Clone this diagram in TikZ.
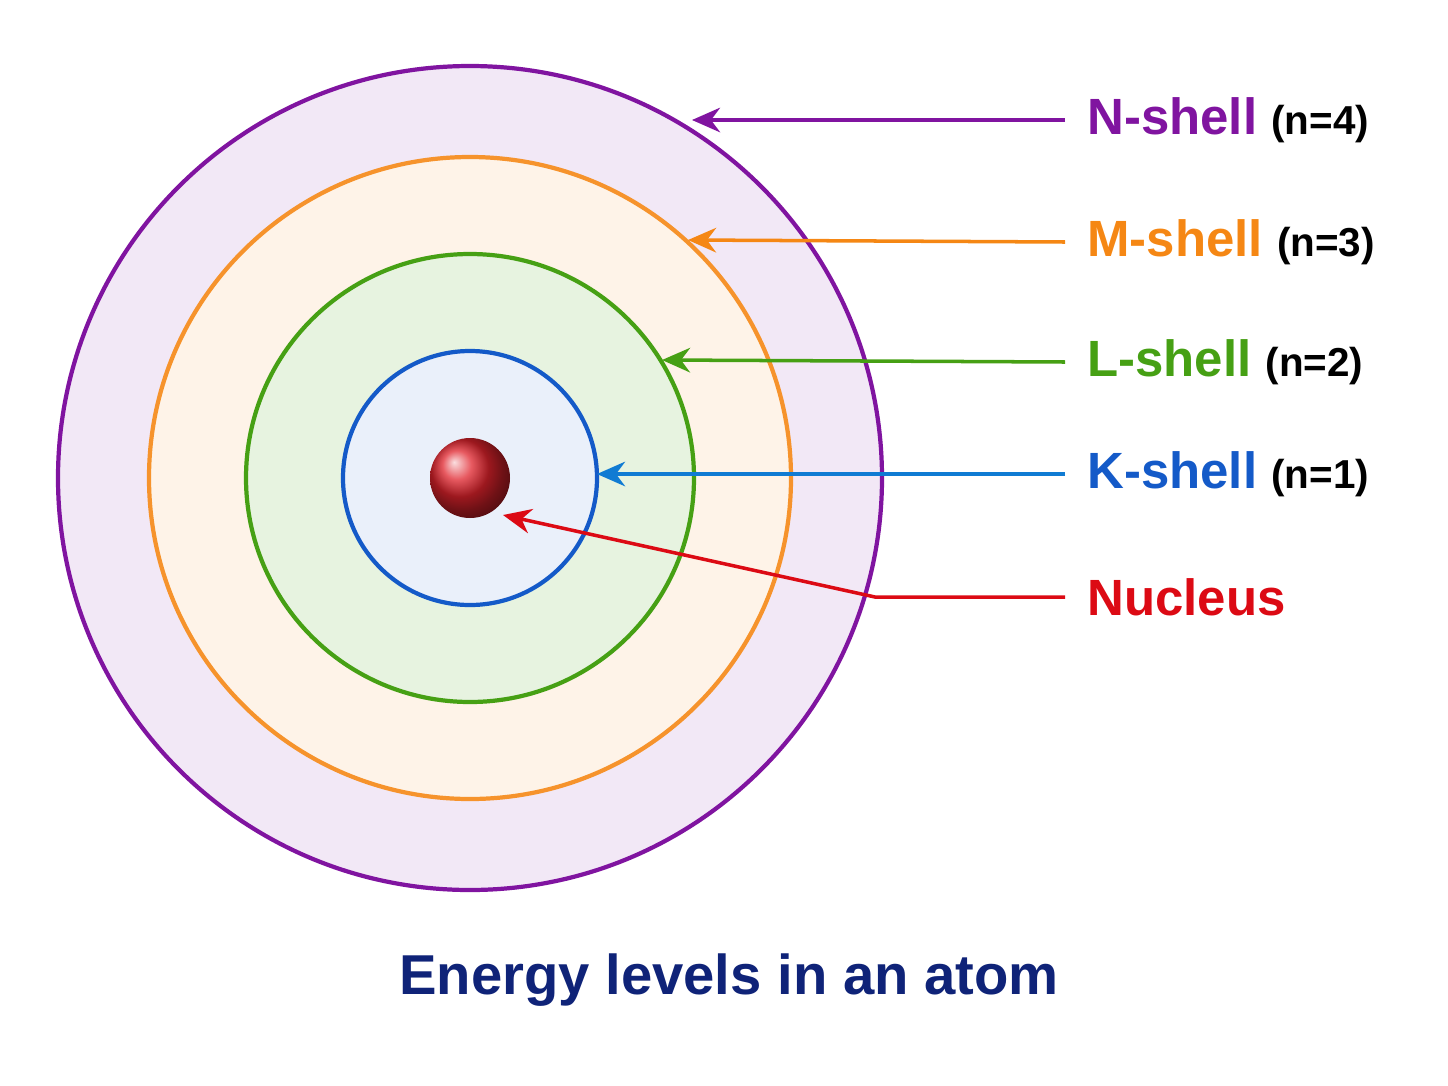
\documentclass[tikz,border=0pt]{standalone}
\usepackage{fontspec}
\setmainfont{Liberation Sans}
\usetikzlibrary{arrows.meta}
\definecolor{nviolet}{RGB}{128,20,160}
\definecolor{morange}{RGB}{245,135,20}
\definecolor{lgreen}{RGB}{70,160,20}
\definecolor{kblue}{RGB}{20,90,200}
\definecolor{nucred}{RGB}{220,10,20}
\definecolor{navy}{RGB}{15,35,120}
\newcommand{\qnum}[1]{\textcolor{black}{\fontsize{23}{26}\selectfont #1}}
\begin{document}
\begin{tikzpicture}[x=0.02cm, y=-0.02cm,
  shell/.style={line width=2.4pt},
  pointer/.style={line width=2pt, -{Stealth[length=16pt, width=14pt]}},
  shelltag/.style={anchor=west, inner sep=0pt, font=\fontsize{29}{32}\selectfont\bfseries}]

\useasboundingbox (0,0) rectangle (1448,1086);

% shells, outermost first
\fill[nviolet!10] (470,478) circle (412);
\fill[morange!10] (470,478) circle (321);
\fill[lgreen!13] (470,478) circle (224);
\fill[kblue!9] (470,478) circle (127);
\draw[shell, nviolet] (470,478) circle (412);
\draw[shell, morange!90] (470,478) circle (321);
\draw[shell, lgreen] (470,478) circle (224);
\draw[shell, kblue] (470,478) circle (127);

% nucleus
\shade[ball color=nucred!90!white] (470,478) circle (40);
\coordinate (nuc) at (503,515);

% shell hits
\coordinate (nhit) at (692,120);
\coordinate (mhit) at (688,240);
\coordinate (lhit) at (662,360);
\coordinate (khit) at (597,474);
\coordinate (bend) at (875,597);

% labels
\node[shelltag, text=nviolet] (nlab) at (1087,120) {N-shell \qnum{(n=4)}};
\node[shelltag, text=morange] (mlab) at (1087,242) {M-shell \qnum{(n=3)}};
\node[shelltag, text=lgreen] (llab) at (1087,362) {L-shell \qnum{(n=2)}};
\node[shelltag, text=kblue] (klab) at (1087,474) {K-shell \qnum{(n=1)}};
\node[shelltag, text=nucred] (nulab) at (1087,597) {Nucleus};

% pointers
\draw[pointer, nviolet] ([xshift=-0.44cm]nlab.west) -- (nhit);
\draw[pointer, morange] ([xshift=-0.44cm]mlab.west) -- (mhit);
\draw[pointer, lgreen] ([xshift=-0.44cm]llab.west) -- (lhit);
\draw[pointer, kblue!80!cyan] ([xshift=-0.44cm]klab.west) -- (khit);
\draw[pointer, nucred] ([xshift=-0.44cm]nulab.west) -- (bend) -- (nuc);

% title
\node[font=\fontsize{32}{36}\selectfont\bfseries, text=navy] (title) at (729,980) {Energy levels in an atom};
\end{tikzpicture}
\end{document}
